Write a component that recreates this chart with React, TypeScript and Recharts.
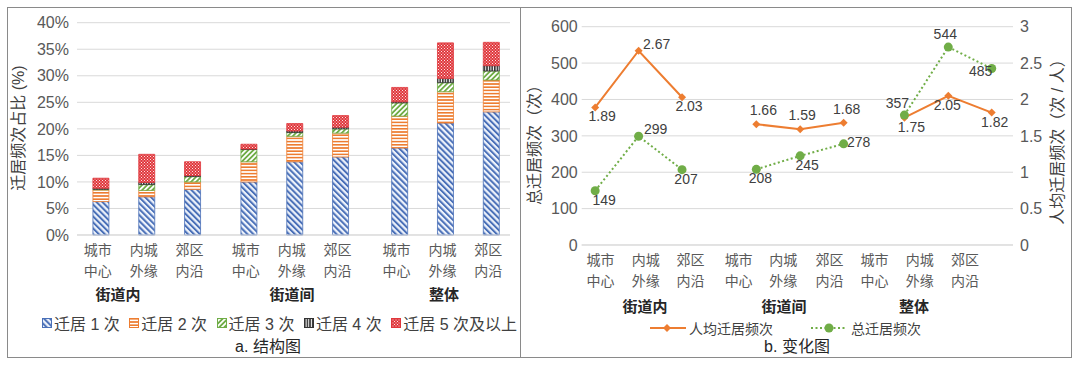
import { BarChart, Bar, XAxis, YAxis, CartesianGrid, ComposedChart, Line, LabelList } from "recharts";

// categories
const zoneTop = ["城市", "内城", "郊区", "城市", "内城", "郊区", "城市", "内城", "郊区"];
const zoneBottom = ["中心", "外缘", "内沿", "中心", "外缘", "内沿", "中心", "外缘", "内沿"];
const groups = ["街道内", "街道间", "整体"];

// a. 结构图 (%)
const once = [6.3, 7.2, 8.6, 10.0, 13.8, 14.7, 16.4, 21.1, 23.2];
const twice = [2.2, 1.2, 1.4, 3.8, 4.8, 4.5, 6.0, 5.9, 6.0];
const thrice = [0.1, 1.1, 1.0, 2.3, 0.7, 0.8, 2.5, 1.7, 1.7];
const four = [0.2, 0.4, 0.2, 0.1, 0.3, 0.3, 0.2, 0.8, 1.0];
const fivePlus = [1.9, 5.3, 2.6, 0.9, 1.4, 2.2, 2.7, 6.7, 4.4];
const pctTicks = [0, 5, 10, 15, 20, 25, 30, 35, 40];

// b. 变化图
const perCapita = [1.89, 2.67, 2.03, 1.66, 1.59, 1.68, 1.75, 2.05, 1.82];
const total = [149, 299, 207, 208, 245, 278, 357, 544, 485];
const totalTicks = [0, 100, 200, 300, 400, 500, 600];
const perTicks = [0, 0.5, 1, 1.5, 2, 2.5, 3];

// layout: slot positions along the numeric x axes
const BAR_SLOTS = [0, 1, 2, 3.23, 4.23, 5.23, 6.52, 7.52, 8.52];
const PT_SLOTS = [0, 1, 2, 3.71, 4.72, 5.72, 7.12, 8.13, 9.13];
const LAB_SLOTS = [0.1, 1.14, 2.17, 3.28, 4.31, 5.37, 6.41, 7.45, 8.49];

// label nudges (dx, dy) for the data labels
const PER_OFF = [[7, 14], [18, -2], [7, 14], [7, -9], [2, -9], [3, -9], [7, 14], [-1, 14], [3, 14]];
const TOT_OFF = [[9, 14], [17, -2], [4, 14], [4, 14], [7, 14], [15, 3], [-7, -7], [-3, -8], [-11, 7]];

const FONT = "'Liberation Sans', 'Noto Sans CJK SC', sans-serif";
const BLUE = "#4a70b8";
const ORANGE = "#ed7d31";
const GREEN = "#70ad47";
const DARK = "#333333";
const RED = "#e0373c";

const barRows = BAR_SLOTS.map((x, i) => ({
  x,
  once: once[i],
  twice: twice[i],
  thrice: thrice[i],
  four: four[i],
  fivePlus: fivePlus[i],
}));

// the lines break between the three groups, so a null row sits in each gap
const lineRows: any[] = [];
PT_SLOTS.forEach((x, i) => {
  lineRows.push({ x, perCapita: perCapita[i], total: total[i], i });
  if (i === 2 || i === 5) {
    lineRows.push({ x: (x + PT_SLOTS[i + 1]) / 2, perCapita: null, total: null, i: -1 });
  }
});

const series = [
  { key: "once", name: "迁居 1 次", pat: "p1", color: BLUE },
  { key: "twice", name: "迁居 2 次", pat: "p2", color: ORANGE },
  { key: "thrice", name: "迁居 3 次", pat: "p3", color: GREEN },
  { key: "four", name: "迁居 4 次", pat: "p4", color: DARK },
  { key: "fivePlus", name: "迁居 5 次及以上", pat: "p5", color: RED },
];

function Patterns() {
  return (
    <defs>
      <pattern id="p1" patternUnits="userSpaceOnUse" width="4.2" height="4.2" patternTransform="rotate(-45)">
        <rect width="4.2" height="4.2" fill="#eef3fb" />
        <rect width="2" height="4.2" fill={BLUE} />
      </pattern>
      <pattern id="p2" patternUnits="userSpaceOnUse" width="4" height="3.2">
        <rect width="4" height="3.2" fill="#fff" />
        <rect width="4" height="1.6" fill={ORANGE} />
      </pattern>
      <pattern id="p3" patternUnits="userSpaceOnUse" width="3.6" height="3.6" patternTransform="rotate(45)">
        <rect width="3.6" height="3.6" fill="#fff" />
        <rect width="1.8" height="3.6" fill={GREEN} />
      </pattern>
      <pattern id="p4" patternUnits="userSpaceOnUse" width="2.6" height="4">
        <rect width="2.6" height="4" fill="#fff" />
        <rect width="1.6" height="4" fill={DARK} />
      </pattern>
      <pattern id="p5" patternUnits="userSpaceOnUse" width="3" height="3">
        <rect width="3" height="3" fill={RED} />
        <rect x="0" y="0" width="1" height="1" fill="#fbe3e3" />
        <rect x="1.5" y="1.5" width="1" height="1" fill="#fbe3e3" />
      </pattern>
    </defs>
  );
}

function ZoneTick(props: any, slots: number[], line1: number, dx: number) {
  const { x, y, payload } = props;
  const i = slots.findIndex((s) => Math.abs(s - payload.value) < 1e-6);
  if (i < 0) return <g />;
  return (
    <g>
      <text x={x + dx} y={y + line1} textAnchor="middle" fontSize={14} fill="#595959" fontFamily={FONT}>
        {zoneTop[i]}
      </text>
      <text x={x + dx} y={y + line1 + 20.5} textAnchor="middle" fontSize={14} fill="#595959" fontFamily={FONT}>
        {zoneBottom[i]}
      </text>
    </g>
  );
}

function Diamond(props: any) {
  const { cx, cy, index, value } = props;
  if (cx == null || cy == null || value == null) return <g key={`d-${index}`} />;
  const r = 4;
  return (
    <polygon
      key={`d-${index}`}
      points={`${cx},${cy - r} ${cx + r},${cy} ${cx},${cy + r} ${cx - r},${cy}`}
      fill={ORANGE}
    />
  );
}

function Dot(props: any) {
  const { cx, cy, index, value } = props;
  if (cx == null || cy == null || value == null) return <g key={`c-${index}`} />;
  return <circle key={`c-${index}`} cx={cx} cy={cy} r={4.5} fill={GREEN} />;
}

function makeLabel(off: number[][], fmt: (v: number) => string) {
  return (p: any) => {
    const { x, y, index, value } = p;
    const row = lineRows[index];
    if (!row || row.i < 0 || value == null || x == null || y == null) return null;
    const o = off[row.i];
    return (
      <text x={x + o[0]} y={y + o[1]} textAnchor="middle" fontSize={14} fill="#404040" fontFamily={FONT}>
        {fmt(value)}
      </text>
    );
  };
}

const centered = (x: number, y: number, extra: any = {}) => ({
  position: "absolute" as const,
  left: x,
  top: y,
  transform: "translate(-50%, -50%)",
  whiteSpace: "nowrap" as const,
  fontFamily: FONT,
  lineHeight: 1,
  ...extra,
});

function StructureChart() {
  return (
    <div style={{ position: "absolute", left: 0, top: 0 }}>
      <BarChart
        width={520}
        height={365}
        data={barRows}
        margin={{ top: 22.7, right: 10, left: 17, bottom: 100 }}
        barSize={16}
      >
        <Patterns />
        <CartesianGrid vertical={false} stroke="#d9d9d9" />
        <XAxis
          dataKey="x"
          type="number"
          domain={[-0.52, 8.93]}
          ticks={BAR_SLOTS}
          interval={0}
          height={30}
          tickSize={0}
          tickMargin={0}
          axisLine={{ stroke: "#d9d9d9" }}
          tickLine={false}
          tick={(p: any) => ZoneTick(p, BAR_SLOTS, 20, -3)}
        />
        <YAxis
          domain={[0, 40]}
          ticks={pctTicks}
          width={60}
          axisLine={false}
          tickLine={false}
          tickSize={0}
          tickMargin={8}
          tickFormatter={(v: number) => `${v}%`}
          tick={{ fontSize: 16, fill: "#595959", fontFamily: FONT }}
        />
        {series.map((s) => (
          <Bar
            key={s.key}
            dataKey={s.key}
            name={s.name}
            stackId="a"
            fill={`url(#${s.pat})`}
            stroke={s.color}
            strokeWidth={0.8}
            isAnimationActive={false}
          />
        ))}
      </BarChart>
    </div>
  );
}

function TrendChart() {
  return (
    <div style={{ position: "absolute", left: 520, top: 0 }}>
      <ComposedChart
        width={560}
        height={365}
        data={lineRows}
        margin={{ top: 26.7, right: 17, left: 11.7, bottom: 80 }}
      >
        <XAxis
          dataKey="x"
          type="number"
          domain={[-0.31, 9.62]}
          allowDataOverflow
          ticks={LAB_SLOTS}
          interval={0}
          height={40}
          tickSize={0}
          tickMargin={0}
          axisLine={{ stroke: "#d9d9d9" }}
          tickLine={false}
          tick={(p: any) => ZoneTick(p, LAB_SLOTS, 20, 1)}
        />
        <YAxis
          yAxisId="left"
          domain={[0, 600]}
          ticks={totalTicks}
          width={50}
          axisLine={false}
          tickLine={false}
          tickSize={0}
          tickMargin={4}
          tick={{ fontSize: 16, fill: "#595959", fontFamily: FONT }}
        />
        <YAxis
          yAxisId="right"
          orientation="right"
          domain={[0, 3]}
          ticks={perTicks}
          width={50}
          axisLine={false}
          tickLine={false}
          tickSize={0}
          tickMargin={7}
          tick={{ fontSize: 16, fill: "#595959", fontFamily: FONT }}
        />
        <CartesianGrid vertical={false} stroke="#d9d9d9" yAxisId="left" />
        <Line
          yAxisId="right"
          dataKey="perCapita"
          name="人均迁居频次"
          stroke={ORANGE}
          strokeWidth={2}
          dot={Diamond}
          isAnimationActive={false}
        >
          <LabelList dataKey="perCapita" content={makeLabel(PER_OFF, (v) => v.toFixed(2))} />
        </Line>
        <Line
          yAxisId="left"
          dataKey="total"
          name="总迁居频次"
          stroke={GREEN}
          strokeWidth={2}
          strokeDasharray="2 2.5"
          dot={Dot}
          isAnimationActive={false}
        >
          <LabelList dataKey="total" content={makeLabel(TOT_OFF, (v) => String(v))} />
        </Line>
      </ComposedChart>
    </div>
  );
}

export default function App() {
  const panel = {
    position: "absolute" as const,
    top: 7,
    height: 351,
    border: "1.5px solid #8a8a8a",
    boxSizing: "border-box" as const,
  };
  const legendText = { fontSize: 16, color: "#404040", fontFamily: FONT };
  return (
    <div style={{ position: "relative", width: 1080, height: 365, background: "#fff", overflow: "hidden" }}>
      <style>{"body{margin:0}"}</style>
      <div style={{ ...panel, left: 7, width: 514 }} />
      <div style={{ ...panel, left: 520, width: 552 }} />
      <StructureChart />
      <TrendChart />

      {/* axis titles */}
      <div style={centered(19, 128, { fontSize: 16, color: "#404040", transform: "translate(-50%, -50%) rotate(-90deg)" })}>
        迁居频次占比 (%)
      </div>
      <div style={centered(535, 141, { fontSize: 16, color: "#404040", transform: "translate(-50%, -50%) rotate(-90deg)" })}>
        总迁居频次（次）
      </div>
      <div style={centered(1058, 138, { fontSize: 16, color: "#404040", transform: "translate(-50%, -50%) rotate(-90deg)" })}>
        人均迁居频次（次 / 人）
      </div>

      {/* group labels */}
      {[118, 292, 444].map((x, i) => (
        <div key={`ga-${i}`} style={centered(x, 294, { fontSize: 15, fontWeight: 700, color: "#262626" })}>
          {groups[i]}
        </div>
      ))}
      {[645, 784, 914].map((x, i) => (
        <div key={`gb-${i}`} style={centered(x, 306, { fontSize: 15, fontWeight: 700, color: "#262626" })}>
          {groups[i]}
        </div>
      ))}

      {/* legend a */}
      <div style={{ position: "absolute", left: 42, top: 311, display: "flex", alignItems: "center", gap: 9.5 }}>
        {series.map((s) => (
          <div key={s.key} style={{ display: "flex", alignItems: "center", gap: 2 }}>
            <svg width={10} height={10}>
              <rect x={0.5} y={0.5} width={9} height={9} fill={`url(#${s.pat})`} stroke={s.color} strokeWidth={1} />
            </svg>
            <span style={legendText}>{s.name}</span>
          </div>
        ))}
      </div>

      {/* legend b */}
      <div style={{ position: "absolute", left: 650, top: 318, display: "flex", alignItems: "center" }}>
        <svg width={36} height={12}>
          <line x1={0} y1={6} x2={36} y2={6} stroke={ORANGE} strokeWidth={2} />
          <polygon points="17,2 21,6 17,10 13,6" fill={ORANGE} />
        </svg>
        <span style={{ ...legendText, fontSize: 14, marginLeft: 3 }}>人均迁居频次</span>
        <svg width={36} height={12} style={{ marginLeft: 38 }}>
          <line x1={0} y1={6} x2={36} y2={6} stroke={GREEN} strokeWidth={2} strokeDasharray="2 2.5" />
          <circle cx={18} cy={6} r={4.5} fill={GREEN} />
        </svg>
        <span style={{ ...legendText, fontSize: 14, marginLeft: 4 }}>总迁居频次</span>
      </div>

      {/* captions */}
      <div style={centered(268, 347, { fontSize: 16, color: "#262626" })}>a. 结构图</div>
      <div style={centered(797, 347, { fontSize: 16, color: "#262626" })}>b. 变化图</div>
    </div>
  );
}
